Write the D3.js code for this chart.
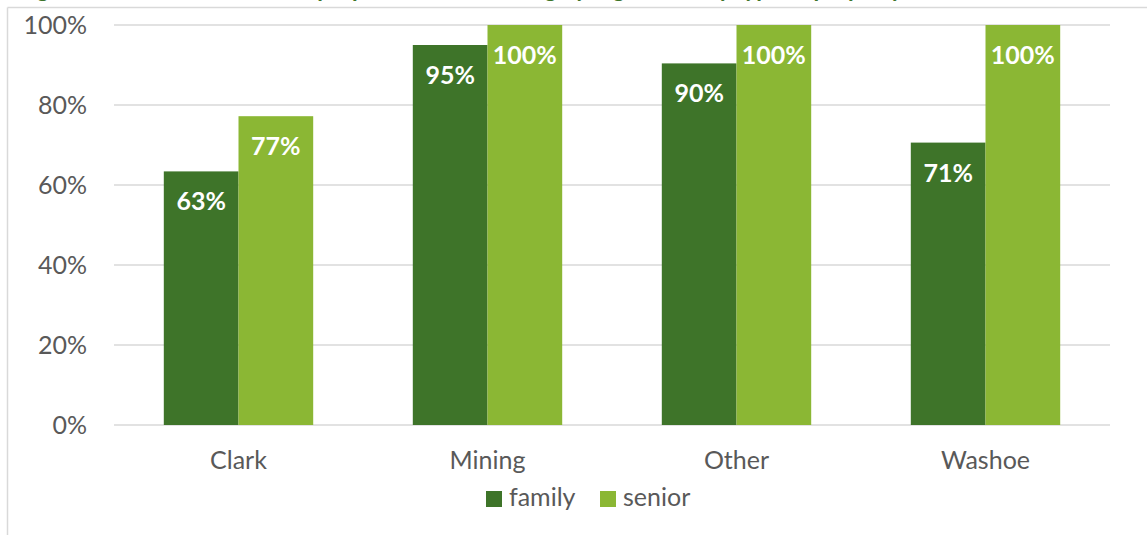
<!DOCTYPE html>
<html>
<head>
<meta charset="utf-8">
<script src="https://cdn.jsdelivr.net/npm/d3@7"></script>
<style>
  html, body { margin: 0; padding: 0; background: #fff; overflow: hidden; }
  svg { display: block; font-family: Lato, "Open Sans", sans-serif; }
</style>
</head>
<body>
<svg id="chart" width="1147" height="535"></svg>
<script>
// ---- data ----
const titleText = "Figure 10: Percent of units in properties with a rating by region and by type of property";
const categories = ["Clark", "Mining", "Other", "Washoe"];
const seriesNames = ["family", "senior"];
const familyValues = [63.4, 95.0, 90.4, 70.6];
const seniorValues = [77.2, 100, 100, 100];
const familyLabels = ["63%", "95%", "90%", "71%"];
const seniorLabels = ["77%", "100%", "100%", "100%"];
const yTicks = [0, 20, 40, 60, 80, 100];
const yTickLabels = ["0%", "20%", "40%", "60%", "80%", "100%"];

const colors = { family: "#3E7429", senior: "#8BB734" };

const svg = d3.select("#chart");

// title (clipped at top in the reference)
svg.append("text")
  .attr("x", 18).attr("y", -3)
  .attr("font-size", 23).attr("font-weight", "bold")
  .attr("fill", "#3E7429")
  .text(titleText);

// chart frame
svg.append("line").attr("x1", 7.5).attr("x2", 1147).attr("y1", 7.5).attr("y2", 7.5)
  .attr("stroke", "#d9d9d9").attr("stroke-width", 1.5);
svg.append("line").attr("x1", 7.5).attr("x2", 7.5).attr("y1", 7.5).attr("y2", 535)
  .attr("stroke", "#d9d9d9").attr("stroke-width", 1.5);

const x0 = d3.scaleBand().domain(categories).range([114, 1110])
  .paddingInner(0.4).paddingOuter(0.2);
const x1 = d3.scaleBand().domain(seriesNames).range([0, x0.bandwidth()]);
const y = d3.scaleLinear().domain([0, 100]).range([425, 25]);

// gridlines
svg.append("g").selectAll("line").data(yTicks).join("line")
  .attr("x1", 114).attr("x2", 1110)
  .attr("y1", d => y(d)).attr("y2", d => y(d))
  .attr("stroke", "#d9d9d9").attr("stroke-width", 1.5);

// y labels
svg.append("g").selectAll("text").data(yTicks).join("text")
  .attr("x", 87).attr("y", d => y(d)).attr("dy", "0.36em")
  .attr("text-anchor", "end").attr("font-size", 25).attr("fill", "#595959")
  .text((d, i) => yTickLabels[i]);

const rows = categories.map((c, i) => ({
  cat: c,
  vals: [
    { s: "family", v: familyValues[i], l: familyLabels[i] },
    { s: "senior", v: seniorValues[i], l: seniorLabels[i] }
  ]
}));

const groups = svg.append("g").selectAll("g").data(rows).join("g")
  .attr("transform", d => `translate(${x0(d.cat)},0)`);

groups.selectAll("rect").data(d => d.vals).join("rect")
  .attr("x", d => x1(d.s)).attr("width", x1.bandwidth())
  .attr("y", d => y(d.v)).attr("height", d => y(0) - y(d.v))
  .attr("fill", d => colors[d.s]);

groups.selectAll("text").data(d => d.vals).join("text")
  .attr("x", d => x1(d.s) + x1.bandwidth() / 2)
  .attr("y", d => y(d.v) + 39)
  .attr("text-anchor", "middle").attr("font-size", 25).attr("font-weight", "bold")
  .attr("fill", "#fff")
  .text(d => d.l);

// category labels
svg.append("g").selectAll("text").data(categories).join("text")
  .attr("x", d => x0(d) + x0.bandwidth() / 2).attr("y", 469)
  .attr("text-anchor", "middle").attr("font-size", 25).attr("fill", "#595959")
  .text(d => d);

// legend
const legendItems = [{ s: "family", x: 486 }, { s: "senior", x: 600 }];
const lg = svg.append("g").selectAll("g").data(legendItems).join("g")
  .attr("transform", d => `translate(${d.x},491)`);
lg.append("rect").attr("width", 16).attr("height", 16).attr("fill", d => colors[d.s]);
lg.append("text").attr("x", 23).attr("y", 15).attr("font-size", 25).attr("fill", "#595959")
  .text(d => d.s);
</script>
</body>
</html>
